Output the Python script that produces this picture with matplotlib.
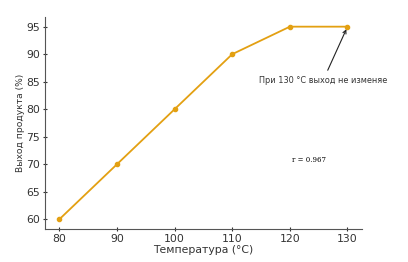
import matplotlib
matplotlib.use('Agg')
import matplotlib.pyplot as plt

temps = [80, 90, 100, 110, 120, 130]
yields = [60, 70, 80, 90, 95, 95]
r_text = 'r = 0.967'
note = 'При 130 °C выход не изменяе'

fig = plt.figure(figsize=(4.08, 2.62), dpi=100)
ax = fig.add_axes([0.110, 0.126, 0.777, 0.809])

ax.plot(temps, yields, '-o', color='#E3A012', lw=1.3, ms=3)
ax.set_xticks(temps)
ax.set_yticks(range(60, 100, 5))
ax.set_xlabel('Температура (°C)', fontsize=7.8, color='#333333', labelpad=1)
ax.set_ylabel('Выход продукта (%)', fontsize=6.6, color='#333333', labelpad=1)
ax.tick_params(labelsize=7.8, colors='#333333', direction='inout', length=3,
               width=0.8, pad=2)
for s in ['top', 'right']:
    ax.spines[s].set_visible(False)
for s in ['left', 'bottom']:
    ax.spines[s].set_color('#555555')

ax.annotate(note, xy=(temps[-1], yields[-1]), xytext=(125.8, 85.3),
            fontsize=5.9, color='#333333', ha='center', va='center',
            arrowprops=dict(arrowstyle='->', color='#222222', lw=0.8))
ax.text(123.3, 70.7, r_text, fontsize=5, family='serif', ha='center', va='center')

fig.savefig('out.png', dpi=100)
